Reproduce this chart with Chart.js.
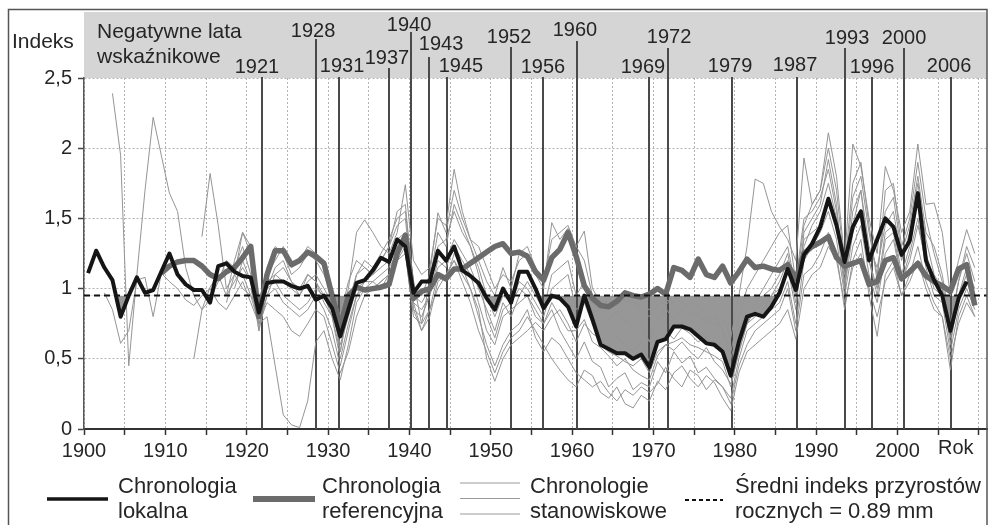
<!DOCTYPE html>
<html>
<head>
<meta charset="utf-8">
<script src="https://cdn.jsdelivr.net/npm/chart.js@4.4.1/dist/chart.umd.min.js"></script>
<style>
    html, body { margin: 0; padding: 0; background: #fff; }
    #wrap { width: 988px; height: 525px; position: relative; }
</style>
</head>
<body>
<div id="wrap"><canvas id="chart"></canvas></div>
<script>
// Annual index values, one per year
const localStartYear = 1900;
const localChron = [
    1.11, 1.27, 1.15, 1.06, 0.80, 0.95, 1.08, 0.97, 0.99, 1.12,
    1.25, 1.10, 1.03, 0.99, 0.99, 0.90, 1.16, 1.18, 1.12, 1.09,
    1.08, 0.83, 1.04, 1.05, 1.05, 1.02, 1.00, 1.02, 0.92, 0.95,
    0.86, 0.66, 0.85, 1.04, 1.06, 1.13, 1.22, 1.19, 1.35, 1.30,
    0.97, 1.05, 1.05, 1.27, 1.20, 1.30, 1.13, 1.09, 1.04, 0.93,
    0.85, 1.00, 0.90, 1.12, 1.12, 1.00, 0.86, 0.95, 0.93, 0.87,
    0.73, 0.95, 0.78, 0.60, 0.57, 0.54, 0.54, 0.50, 0.53, 0.44,
    0.62, 0.64, 0.73, 0.73, 0.71, 0.66, 0.61, 0.60, 0.55, 0.38,
    0.62, 0.80, 0.82, 0.80, 0.87, 0.97, 1.14, 0.99, 1.24, 1.32,
    1.44, 1.64, 1.45, 1.19, 1.44, 1.55, 1.20, 1.35, 1.50, 1.44,
    1.24, 1.34, 1.68, 1.20, 1.06, 0.95, 0.70, 0.93, 1.05
];

const refStartYear = 1909;
const refChron = [
    1.11,
    1.16, 1.19, 1.20, 1.20, 1.16, 1.10, 1.07, 1.12, 1.15, 1.22,
    1.30, 0.80, 1.10, 1.27, 1.27, 1.17, 1.20, 1.26, 1.23, 1.18,
    0.95, 0.73, 0.95, 1.01, 0.99, 1.00, 1.01, 1.03, 1.25, 1.38,
    0.93, 0.98, 1.00, 1.10, 1.07, 1.14, 1.14, 1.18, 1.22, 1.26,
    1.30, 1.32, 1.25, 1.26, 1.23, 1.12, 1.06, 1.22, 1.28, 1.40,
    1.23, 1.02, 0.93, 0.88, 0.87, 0.91, 0.97, 0.95, 0.94, 0.96,
    1.00, 0.96, 1.15, 1.13, 1.08, 1.21, 1.10, 1.08, 1.16, 1.04,
    1.12, 1.21, 1.15, 1.16, 1.14, 1.13, 1.17, 1.07, 1.25, 1.30,
    1.33, 1.37, 1.22, 1.16, 1.18, 1.20, 1.03, 1.05, 1.20, 1.22,
    1.07, 1.12, 1.18, 1.09, 1.05, 1.02, 0.98, 1.14, 1.17, 0.88
];

// Site chronologies, 1900-2009 (null = no data yet)
const siteStartYear = 1900;
const site1 = [
    null, null, null, 2.39, 1.95, 0.45, 1.10, 1.70, 2.22, 1.95,
    1.68, 1.55, 1.15, 0.95, 0.85, 0.92, 1.05, 1.20, 1.15, 1.30,
    1.10, 0.80, 1.00, 1.15, 1.20, 1.05, 0.95, 1.10, 1.05, 0.90,
    0.80, 0.55, 0.85, 1.10, 1.15, 1.10, 1.20, 1.30, 1.45, 1.50,
    0.95, 0.90, 1.00, 1.30, 1.35, 1.55, 1.40, 1.30, 1.15, 0.95,
    0.80, 0.95, 0.90, 1.05, 1.00, 0.90, 0.80, 1.00, 1.05, 1.10,
    0.85, 0.90, 0.75, 0.60, 0.55, 0.52, 0.48, 0.45, 0.50, 0.40,
    0.55, 0.60, 0.62, 0.65, 0.60, 0.58, 0.55, 0.52, 0.48, 0.30,
    0.55, 0.75, 0.80, 0.85, 0.95, 1.05, 1.20, 0.90, 1.30, 1.45,
    1.55, 1.75, 1.50, 1.05, 1.45, 1.70, 1.30, 1.15, 1.45, 1.55,
    1.20, 1.40, 1.75, 1.35, 1.10, 1.00, 0.70, 0.95, 1.10, 0.95
];
const site2 = [
    null, null, 0.97, 0.85, 0.61, 0.70, 1.06, 1.08, 0.80, 1.11,
    1.05, 1.00, 0.92, 0.88, 0.95, 1.00, 0.90, 0.85, 0.95, 1.05,
    0.90, 0.75, 0.90, 0.85, 0.80, 0.70, 0.66, 0.75, 0.85, 0.80,
    0.60, 0.40, 0.55, 0.80, 0.95, 1.00, 1.05, 1.10, 1.20, 1.25,
    0.80, 0.75, 0.85, 1.00, 1.10, 1.20, 1.05, 0.90, 0.70, 0.55,
    0.40, 0.55, 0.65, 0.70, 0.80, 0.70, 0.60, 0.50, 0.42, 0.35,
    0.30, 0.42, 0.38, 0.26, 0.22, 0.30, 0.18, 0.15, 0.24, 0.20,
    0.34, 0.28, 0.40, 0.45, 0.36, 0.30, 0.38, 0.33, 0.22, 0.13,
    0.40, 0.55, 0.60, 0.65, 0.70, 0.75, 0.85, 0.64, 1.00, 1.10,
    1.15, 1.30, 1.20, 0.90, 1.15, 1.25, 1.00, 0.80, 1.05, 1.15,
    0.95, 1.05, 1.20, 1.00, 0.85, 0.80, 0.50, 0.75, 0.90, 0.80
];
const site3 = [
    null, null, null, null, null, null, null, null, null, null,
    null, null, null, null, 1.37, 1.82, 1.45, 1.00, 1.10, 1.40,
    1.30, 0.90, 1.15, 1.30, 1.25, 1.10, 1.15, 1.25, 1.20, 1.10,
    0.95, 0.75, 1.00, 1.40, 1.49, 1.40, 1.30, 1.25, 1.40, 1.74,
    1.20, 1.10, 1.15, 1.50, 1.45, 1.85, 1.55, 1.35, 1.30, 1.15,
    1.00, 1.10, 1.05, 1.20, 1.25, 1.10, 1.00, 1.47, 1.35, 1.43,
    1.30, 1.41, 1.00, 0.90, 0.88, 0.92, 0.95, 0.90, 0.88, 0.85,
    0.92, 0.88, 0.95, 0.90, 0.85, 0.88, 0.80, 0.78, 0.80, 0.65,
    0.95, 1.30, 1.78, 1.75, 1.55, 1.44, 1.35, 1.20, 1.93, 1.60,
    1.70, 2.11, 1.80, 1.20, 2.03, 1.87, 1.50, 1.25, 1.87, 1.70,
    1.40, 1.55, 2.03, 1.60, 1.61, 1.40, 0.95, 1.20, 1.42, 1.25
];
const site4 = [
    null, null, null, null, null, null, null, null, null, null,
    null, null, null, 0.50, 0.85, 1.01, 1.10, 0.95, 1.05, 1.15,
    1.05, 0.70, 0.95, 1.00, 0.90, 0.85, 0.80, 0.85, 0.95, 0.85,
    0.70, 0.45, 0.70, 0.95, 1.05, 1.10, 1.15, 1.20, 1.35, 1.40,
    0.85, 0.80, 0.95, 1.20, 1.15, 1.30, 1.20, 1.10, 0.90, 0.70,
    0.60, 0.80, 0.85, 0.90, 0.95, 0.80, 0.75, 0.85, 0.70, 0.60,
    0.50, 0.62, 0.48, 0.44, 0.30, 0.36, 0.40, 0.28, 0.33, 0.30,
    0.48, 0.40, 0.55, 0.47, 0.52, 0.40, 0.44, 0.36, 0.30, 0.22,
    0.50, 0.70, 0.75, 0.80, 0.85, 0.90, 1.05, 0.75, 1.20, 1.30,
    1.40, 1.55, 1.35, 0.95, 1.30, 1.45, 1.10, 0.90, 1.25, 1.35,
    1.05, 1.25, 1.50, 1.15, 0.95, 0.90, 0.55, 0.85, 1.00, 0.85
];
const site5 = [
    null, null, null, null, null, null, null, null, null, null,
    null, null, null, null, null, null, null, 0.90, 1.10, 1.00,
    0.95, 0.75, 0.80, 0.45, 0.10, 0.03, 0.01, 0.20, 0.62, 0.70,
    0.50, 0.35, 0.60, 0.90, 1.00, 1.05, 1.00, 1.10, 1.30, 1.35,
    0.90, 0.70, 0.80, 1.05, 1.10, 1.20, 1.10, 1.00, 0.85, 0.50,
    0.34, 0.50, 0.60, 0.65, 0.70, 0.76, 0.70, 0.80, 0.85, 0.75,
    0.62, 0.75, 0.68, 0.64, 0.58, 0.66, 0.60, 0.55, 0.62, 0.48,
    0.66, 0.70, 0.64, 0.72, 0.68, 0.62, 0.66, 0.58, 0.55, 0.40,
    0.60, 0.75, 0.85, 0.90, 0.95, 1.00, 1.15, 0.85, 1.40, 1.50,
    1.60, 1.92, 1.60, 1.00, 1.55, 1.70, 1.20, 1.00, 1.40, 1.45,
    1.10, 1.30, 1.65, 1.25, 1.05, 1.00, 0.60, 0.95, 1.15, 1.00
];
const site6 = [
    null, null, null, null, null, null, null, null, null, null,
    null, null, null, null, null, null, null, 0.95, 1.20, 1.40,
    1.25, 0.70, 1.10, 1.20, 1.30, 1.15, 1.20, 1.30, 1.25, 1.15,
    1.00, 0.80, 1.05, 1.20, 1.15, 1.10, 1.20, 1.30, 1.55, 1.60,
    1.00, 0.95, 1.10, 1.54, 1.40, 1.70, 1.50, 1.35, 1.20, 1.05,
    0.95, 1.15, 1.00, 1.25, 1.30, 1.15, 1.05, 1.35, 1.40, 1.45,
    1.30, 1.20, 0.95, 0.92, 0.90, 0.88, 0.92, 0.90, 0.85, 0.80,
    0.88, 0.92, 0.90, 0.85, 0.82, 0.80, 0.78, 0.75, 0.72, 0.55,
    0.80, 1.00, 1.10, 1.20, 1.30, 1.40, 1.45, 1.05, 1.50, 1.55,
    1.65, 1.85, 1.55, 1.10, 1.65, 1.80, 1.40, 1.10, 1.55, 1.65,
    1.25, 1.45, 1.80, 1.40, 1.30, 1.10, 0.75, 1.05, 1.30, 1.15
];
const site7 = [
    null, null, null, null, null, null, null, null, null, null,
    null, null, null, null, null, null, null, null, 1.00, 1.20,
    1.05, 0.80, 1.00, 1.05, 0.95, 0.90, 0.85, 0.90, 1.00, 0.95,
    0.85, 0.60, 0.80, 1.00, 1.05, 1.05, 1.10, 1.15, 1.25, 1.35,
    0.90, 0.85, 0.95, 1.15, 1.20, 1.35, 1.25, 1.15, 1.00, 0.85,
    0.70, 0.90, 0.80, 0.95, 1.05, 0.95, 0.85, 1.10, 1.15, 1.20,
    0.95, 1.05, 0.82, 0.86, 0.78, 0.84, 0.76, 0.80, 0.74, 0.62,
    0.80, 0.86, 0.78, 0.84, 0.90, 0.80, 0.76, 0.82, 0.70, 0.50,
    0.70, 0.85, 0.90, 0.95, 1.00, 1.10, 1.25, 0.95, 1.35, 1.40,
    1.45, 1.60, 1.45, 1.00, 1.40, 1.55, 1.20, 0.95, 1.35, 1.40,
    1.05, 1.20, 1.45, 1.20, 1.00, 0.95, 0.65, 0.90, 1.05, 0.90
];
const site8 = [
    null, null, null, null, null, null, null, null, null, null,
    null, null, null, null, null, null, null, null, null, 1.10,
    0.95, 0.85, 1.05, 1.10, 1.05, 1.00, 0.95, 1.05, 1.10, 1.00,
    0.90, 0.55, 0.90, 1.10, 1.20, 1.15, 1.25, 1.35, 1.50, 1.55,
    1.05, 0.75, 1.05, 1.40, 1.30, 1.60, 1.45, 1.30, 1.10, 0.80,
    0.65, 0.85, 0.90, 1.00, 0.95, 0.85, 0.75, 0.90, 0.80, 0.70,
    0.70, 0.78, 0.62, 0.58, 0.52, 0.45, 0.50, 0.42, 0.38, 0.35,
    0.52, 0.60, 0.56, 0.62, 0.55, 0.50, 0.58, 0.48, 0.42, 0.32,
    0.55, 0.75, 0.90, 1.00, 1.10, 1.20, 1.30, 1.00, 1.45, 1.60,
    1.70, 2.00, 1.70, 1.15, 1.75, 1.90, 1.45, 1.05, 1.70, 1.75,
    1.30, 1.50, 1.90, 1.50, 1.25, 1.05, 0.70, 1.05, 1.25, 1.05
];
const site9 = [
    null, null, null, null, null, null, null, null, null, null,
    null, null, null, null, null, null, null, null, null, null,
    1.00, 0.75, 0.95, 1.10, 1.15, 1.05, 1.00, 1.10, 1.05, 0.95,
    0.80, 0.50, 0.75, 0.95, 1.00, 1.00, 1.05, 1.10, 1.20, 1.30,
    0.85, 0.70, 0.85, 1.10, 1.05, 1.25, 1.15, 1.00, 0.80, 0.60,
    0.45, 0.60, 0.70, 0.75, 0.85, 0.65, 0.55, 0.65, 0.60, 0.50,
    0.40, 0.35, 0.30, 0.34, 0.26, 0.20, 0.28, 0.24, 0.30, 0.26,
    0.32, 0.44, 0.36, 0.30, 0.42, 0.38, 0.28, 0.35, 0.30, 0.18,
    0.45, 0.60, 0.70, 0.75, 0.80, 0.85, 1.00, 0.70, 1.10, 1.15,
    1.25, 1.40, 1.25, 0.85, 1.20, 1.35, 0.95, 0.66, 1.10, 1.20,
    0.95, 1.10, 1.30, 1.05, 0.90, 0.80, 0.42, 0.80, 0.95, 0.80
];
const siteChrons = [site1, site2, site3, site4, site5, site6, site7, site8, site9];

const meanIndex = 0.95;

// Negative pointer years and where their marker lines sit on the year axis
const negYearLabels = ['1921', '1928', '1931', '1937', '1940', '1943', '1945', '1952', '1956',
    '1960', '1969', '1972', '1979', '1987', '1993', '1996', '2000', '2006'];
const negYearAt = [1921.88, 1928.52, 1931.35, 1937.49, 1940.20, 1942.41, 1944.62, 1952.49, 1956.42,
    1960.60, 1969.45, 1971.79, 1979.66, 1987.65, 1993.55, 1996.87, 2000.80, 2006.58];

const legendLabels = [
    ['Chronologia', 'lokalna'],
    ['Chronologia', 'referencyjna'],
    ['Chronologie', 'stanowiskowe'],
    ['Średni indeks przyrostów', 'rocznych = 0.89 mm']
];

// ---- styling ----
const FONT = '"Liberation Sans", Arial, sans-serif';
const TEXT = '#262626';

// label placement in the grey header (centre y, x nudge, top of marker line)
const negLabelStyle = {
    '1921': { y: 67, dx: -5, top: 77 }, '1928': { y: 31, dx: -3, top: 39 },
    '1931': { y: 66, dx: 3, top: 77 },  '1937': { y: 58, dx: -2, top: 68 },
    '1940': { y: 25, dx: -2, top: 32 }, '1943': { y: 44, dx: 12, top: 57 },
    '1945': { y: 66, dx: 14, top: 77 }, '1952': { y: 37, dx: -2, top: 47 },
    '1956': { y: 67, dx: 0, top: 77 },  '1960': { y: 30, dx: -2, top: 41 },
    '1969': { y: 67, dx: -6, top: 77 }, '1972': { y: 37, dx: 1, top: 48 },
    '1979': { y: 66, dx: -2, top: 77 }, '1987': { y: 65, dx: -2, top: 77 },
    '1993': { y: 38, dx: 2, top: 48 },  '1996': { y: 67, dx: 0, top: 77 },
    '2000': { y: 38, dx: 0, top: 48 },  '2006': { y: 66, dx: -2, top: 77 }
};

function toPoints(values, startYear) {
    // annual values are plotted at mid-year
    return values.map((v, i) => ({ x: startYear + i + 0.5, y: v }));
}

const decorPlugin = {
    id: 'decor',
    beforeDraw(chart) {
        const { ctx, chartArea: a } = chart;
        ctx.save();
        ctx.fillStyle = '#fff';
        ctx.fillRect(0, 0, chart.width, chart.height);
        // grey header band with the negative years
        ctx.fillStyle = '#d5d5d5';
        ctx.fillRect(a.left, 12, a.right - a.left, a.top - 12);
        ctx.restore();
    },
    beforeDatasetsDraw(chart) {
        const { ctx, chartArea: a, scales: { x } } = chart;
        ctx.save();
        ctx.strokeStyle = '#4a4a4a';
        ctx.lineWidth = 2;
        negYearLabels.forEach((lab, i) => {
            const px = Math.round(x.getPixelForValue(negYearAt[i]));
            ctx.beginPath();
            ctx.moveTo(px, negLabelStyle[lab].top);
            ctx.lineTo(px, a.bottom);
            ctx.stroke();
        });
        ctx.restore();
    },
    afterDraw(chart) {
        const { ctx, chartArea: a, scales: { x } } = chart;
        ctx.save();
        ctx.fillStyle = TEXT;
        ctx.textBaseline = 'middle';

        // outer frame
        ctx.strokeStyle = '#555';
        ctx.lineWidth = 1.5;
        ctx.strokeRect(8.5, 9.5, a.right - 8.5, 540);

        ctx.font = '21px ' + FONT;
        ctx.textAlign = 'left';
        ctx.fillText('Indeks', 12, 42);
        ctx.fillText('Negatywne lata', 97, 32);
        ctx.fillText('wskaźnikowe', 97, 57);

        ctx.font = '20px ' + FONT;
        ctx.textAlign = 'center';
        negYearLabels.forEach((lab, i) => {
            const st = negLabelStyle[lab];
            const px = x.getPixelForValue(negYearAt[i]);
            ctx.fillText(lab, px + st.dx, st.y);
        });

        ctx.textAlign = 'left';
        ctx.fillText('Rok', 938, 448);

        // legend
        const ly = 499;
        const samples = [
            { x1: 47, x2: 108, tx: 118 },
            { x1: 253, x2: 315, tx: 322 },
            { x1: 460, x2: 520, tx: 530 },
            { x1: 685, x2: 723, tx: 735 }
        ];
        ctx.lineCap = 'butt';
        // black local chronology
        ctx.strokeStyle = '#151515'; ctx.lineWidth = 3.5;
        ctx.beginPath(); ctx.moveTo(samples[0].x1, ly); ctx.lineTo(samples[0].x2, ly); ctx.stroke();
        // grey reference chronology
        ctx.strokeStyle = '#6b6b6b'; ctx.lineWidth = 6;
        ctx.beginPath(); ctx.moveTo(samples[1].x1, ly); ctx.lineTo(samples[1].x2, ly); ctx.stroke();
        // thin site chronologies
        ctx.strokeStyle = '#9a9a9a'; ctx.lineWidth = 1;
        [483, 498.5, 514].forEach(yy => {
            ctx.beginPath(); ctx.moveTo(samples[2].x1, yy); ctx.lineTo(samples[2].x2, yy); ctx.stroke();
        });
        // dashed mean
        ctx.strokeStyle = '#111'; ctx.lineWidth = 2; ctx.setLineDash([4, 3]);
        ctx.beginPath(); ctx.moveTo(samples[3].x1, ly + 1); ctx.lineTo(samples[3].x2, ly + 1); ctx.stroke();
        ctx.setLineDash([]);

        ctx.font = '22px ' + FONT;
        legendLabels.forEach((lines, i) => {
            ctx.fillText(lines[0], samples[i].tx, 487);
            ctx.fillText(lines[1], samples[i].tx, 512);
        });
        ctx.restore();
    }
};

Chart.defaults.font.family = FONT;
Chart.defaults.color = TEXT;

const datasets = [
    {
        label: 'Chronologia lokalna',
        data: toPoints(localChron, localStartYear),
        borderColor: '#151515',
        borderWidth: 4,
        borderJoinStyle: 'round',
        pointRadius: 0,
        fill: { target: { value: meanIndex }, above: 'rgba(0,0,0,0)', below: '#979797' }
    },
    {
        label: 'Średni indeks',
        data: [{ x: 1900, y: meanIndex }, { x: 2011, y: meanIndex }],
        borderColor: '#111',
        borderWidth: 2,
        borderDash: [6, 4],
        pointRadius: 0,
        fill: false
    },
    {
        label: 'Chronologia referencyjna',
        data: toPoints(refChron, refStartYear),
        borderColor: '#6b6b6b',
        borderWidth: 5.5,
        borderJoinStyle: 'round',
        pointRadius: 0,
        fill: false
    },
    ...siteChrons.map((s, i) => ({
        label: 'Stanowisko ' + (i + 1),
        data: toPoints(s, siteStartYear),
        borderColor: '#959595',
        borderWidth: 1,
        pointRadius: 0,
        fill: false
    }))
];

new Chart(document.getElementById('chart'), {
    type: 'line',
    data: { datasets },
    options: {
        responsive: true,
        maintainAspectRatio: false,
        animation: false,
        layout: { padding: { top: 78, right: 1, left: 0, bottom: 0 } },
        plugins: {
            legend: { display: false },
            tooltip: { enabled: false },
            filler: { drawTime: 'beforeDatasetsDraw' }
        },
        scales: {
            x: {
                type: 'linear',
                min: 1900,
                max: 2011,
                afterFit: (s) => { s.height = 96; },
                ticks: {
                    stepSize: 5,
                    includeBounds: false,
                    autoSkip: false,
                    maxRotation: 0,
                    minRotation: 0,
                    padding: 4,
                    font: { size: 20 },
                    callback: (v) => (v % 10 === 0 && v <= 2000) ? String(v) : ''
                },
                grid: { color: '#b3b3b3', lineWidth: 1, tickLength: 6, tickColor: '#333', tickWidth: 1.5 },
                border: { color: '#333', width: 2, dash: [2, 2] }
            },
            y: {
                min: 0,
                max: 2.5,
                afterFit: (s) => { s.width = 84; },
                ticks: {
                    stepSize: 0.5,
                    padding: 6,
                    font: { size: 20 },
                    callback: (v) => String(v).replace('.', ',')
                },
                grid: { color: '#b3b3b3', lineWidth: 1, tickLength: 6, tickColor: '#444', tickWidth: 1.5 },
                border: { color: '#555', width: 1.5, dash: [2, 2] }
            }
        }
    },
    plugins: [decorPlugin]
});
</script>
</body>
</html>
